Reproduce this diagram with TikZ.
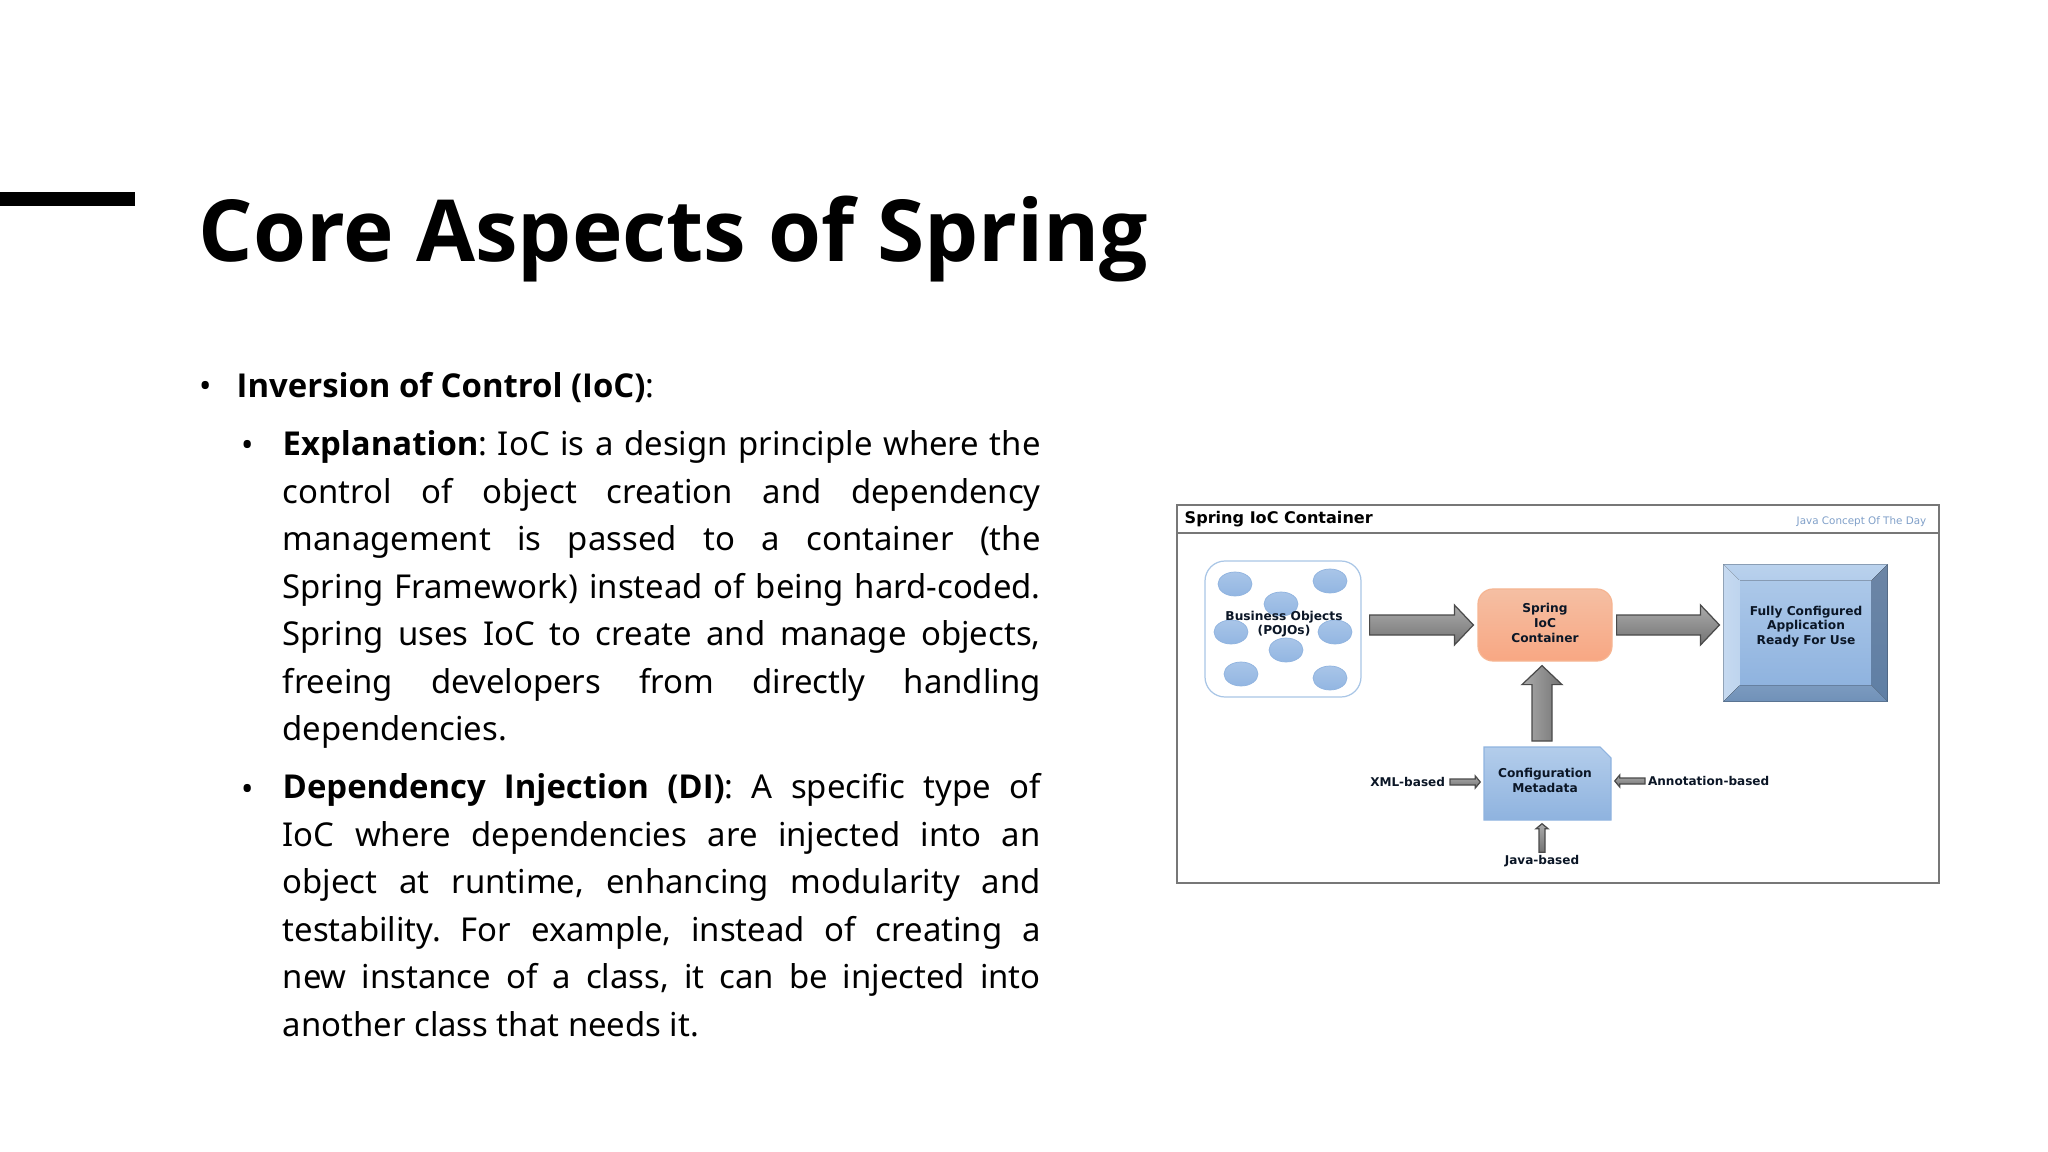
\documentclass[tikz,border=0pt]{standalone}
\usepackage{fontspec}
\setmainfont{Noto Sans}
\newfontfamily\boxfont{DejaVu Sans}
\newfontfamily\headfont{Open Sans}
\newcommand{\leadword}[1]{{\headfont\bfseries #1}}
\usetikzlibrary
  {
    calc,
    shapes.geometric,
  }

\newlength{\px}
\setlength{\px}{0.01cm}

\begin{document}
\begin{tikzpicture}
    [
      x=0.01cm, y=-0.01cm,
      % Styles
      slide title/.style={anchor=base west, inner sep=0pt, font=\headfont\bfseries\fontsize{24.35}{30}\selectfont},
      body text/.style={anchor=north west, inner sep=0pt, text width=758\px, align=justify, font=\frenchspacing\fontsize{9.35}{13.5}\selectfont},
      bullet/.style={anchor=base, inner sep=0pt, font=\fontsize{9.35}{13.5}\selectfont},
      box label/.style={inner sep=0pt, align=center, font=\boxfont\bfseries\fontsize{3.47}{4.2}\selectfont, text=labelcolor},
      small label/.style={box label, font=\boxfont\bfseries\fontsize{3.43}{4}\selectfont},
      pojo/.style={ellipse, minimum width=34\px, minimum height=24\px, inner sep=0pt, draw=pojoedge, line width=0.2pt, top color=pojotop, bottom color=pojobottom},
      block arrow/.style n args={5}{
        draw=arrowedge, line width=0.35pt, shade, top color=arrowlight, bottom color=arrowdark, shading angle=#1,
        to path={
          ($(\tikztostart)!#4!(\tikztotarget)$) coordinate (tail)
          ($(\tikztotarget)!#5!(\tikztostart)$) coordinate (tip)
          ($(tip)!#3!(tail)$) coordinate (neck)
          ($(tail)!#2*0.5!90:(tip)$) -- ($(neck)!#2*0.5!-90:(tail)$) -- ($(neck)!#2!-90:(tail)$) -- (tip)
          -- ($(neck)!#2!90:(tail)$) -- ($(neck)!#2*0.5!90:(tail)$) -- ($(tail)!#2*0.5!-90:(tip)$) -- cycle
        }
      },
      big arrow/.style 2 args={block arrow={#1}{20\px}{19\px}{#2}{4\px}},
      small arrow/.style={block arrow={0}{6\px}{5\px}{0pt}{3\px}}
    ]

    % Colors
    \definecolor{framecolor}{HTML}{777777}
    \definecolor{labelcolor}{HTML}{0B1626}
    \definecolor{watermark}{HTML}{7F9FC8}
    \definecolor{pojoedge}{HTML}{8FB3DF}
    \definecolor{pojotop}{HTML}{A9C5E8}
    \definecolor{pojobottom}{HTML}{92B6E2}
    \definecolor{beanedge}{HTML}{A9C6E6}
    \definecolor{arrowedge}{HTML}{4A4A4A}
    \definecolor{arrowlight}{HTML}{ABABAB}
    \definecolor{arrowdark}{HTML}{737373}
    \definecolor{springtop}{HTML}{F5BFA3}
    \definecolor{springbottom}{HTML}{F8A783}
    \definecolor{springedge}{HTML}{F6B592}
    \definecolor{bluetop}{HTML}{B3CDEB}
    \definecolor{bluebottom}{HTML}{8FB3DF}
    \definecolor{bevelright}{HTML}{6C85A5}
    \definecolor{bevelrightlow}{HTML}{5F7FA5}
    \definecolor{bevellow}{HTML}{7B9ABF}
    \definecolor{bevellowend}{HTML}{7091B8}

    \useasboundingbox (0,0) rectangle (2048,1152);

    % Slide heading
    \fill [black] (0,192) rectangle (135,206);
    \node [slide title] (heading) at (198,262) {Core Aspects of Spring};

    % Bullet text
    \node [bullet] (mark ioc) at (206,398) {•};
    \node [body text, text width=700\px] (ioc) at (236,372) {\leadword{Inversion of Control (IoC)}:};

    \node [bullet] (mark explain) at (248,457) {•};
    \node [body text] (explain) at (282,430)
    {
      \leadword{Explanation}: IoC is a design principle where the\linebreak
      control of object creation and dependency\linebreak
      management is passed to a container (the\linebreak
      Spring Framework) instead of being hard-coded.\linebreak
      Spring uses IoC to create and manage objects,\linebreak
      freeing developers from directly handling\linebreak
      dependencies.
    };

    \node [bullet] (mark di) at (248,800) {•};
    \node [body text] (di) at (282,773)
    {
      \leadword{Dependency Injection (DI)}: A specific type of\linebreak
      IoC where dependencies are injected into an\linebreak
      object at runtime, enhancing modularity and\linebreak
      testability. For example, instead of creating a\linebreak
      new instance of a class, it can be injected into\linebreak
      another class that needs it.
    };

    % Diagram frame
    \draw [framecolor, line width=0.55pt] (1177,505) rectangle (1939,883);
    \draw [framecolor, line width=0.55pt] (1177,533) -- (1939,533);
    \node [anchor=west, inner sep=0pt, font=\boxfont\bfseries\fontsize{4.57}{5}\selectfont] (frame title) at (1184,519) {Spring IoC Container};
    \node [anchor=east, inner sep=0pt, text=watermark, font=\boxfont\fontsize{2.95}{3}\selectfont] (frame credit) at (1927,521.5) {Java Concept Of The Day};

    % Business objects
    \node [draw=beanedge, line width=0.35pt, fill=white, rounded corners=20\px, minimum width=156\px, minimum height=136\px, inner sep=0pt] (beans) at (1283,629) {};
    \foreach \bx/\by/\bname in {1235/584/a, 1330/581/b, 1281/604/c, 1231/632/d, 1335/632/e, 1286/650/f, 1241/674/g, 1330/678/h}
    {
      \node [pojo] (pojo \bname) at (\bx,\by) {};
    }
    \node [box label] (beans text) at (1284,624) {Business Objects\\(POJOs)};

    % Spring container
    \node [box label, draw=springedge, line width=0.35pt, top color=springtop, bottom color=springbottom, rounded corners=15\px, minimum width=134\px, minimum height=72\px] (spring) at (1545,625) {};
    \node [box label] (spring text) at (1545,623) {Spring\\IoC\\Container};

    % Configured application
    \node [minimum width=163\px, minimum height=136\px, inner sep=0pt, draw=pojoedge, line width=0.3pt] (app) at (1805.5,633) {};
    \node [top color=bluetop!80!bluebottom, bottom color=bluebottom, minimum width=131\px, minimum height=104\px, inner sep=0pt] (app face) at (1805.5,633) {};
    \fill [top color=bluetop!90!white, bottom color=bluetop] (app.north west) -- (app.north east) -- (app face.north east) -- (app face.north west) -- cycle;
    \fill [left color=bluetop!75!white, right color=bluetop!85!white] (app.north west) -- (app face.north west) -- (app face.south west) -- (app.south west) -- cycle;
    \fill [top color=bevelright, bottom color=bevelrightlow] (app.north east) -- (app.south east) -- (app face.south east) -- (app face.north east) -- cycle;
    \fill [top color=bevellow, bottom color=bevellowend] (app.south west) -- (app face.south west) -- (app face.south east) -- (app.south east) -- cycle;
    \node [box label] (app text) at (1806,626.5) {Fully Configured\\Application\\Ready For Use};

    % Configuration metadata
    \path [draw=pojoedge, line width=0.3pt, top color=bluetop, bottom color=bluebottom] (1484,747) -- (1600,747) -- (1611,758) -- (1611,820) -- (1484,820) -- cycle;
    \node [box label, minimum width=127\px, minimum height=73\px] (config) at (1547.5,783.5) {};
    \node [box label] (config text) at (1545,780.5) {Configuration\\Metadata};
    \node [small label, anchor=east, outer sep=5\px] (xml) at (1450,782) {XML-based};
    \node [small label, anchor=west, outer sep=3\px] (annotation) at (1645,781) {Annotation-based};
    \node [small label, outer sep=3\px] (java) at (1542,861) {Java-based};
    \coordinate (config top) at (1542,741);

    % Connectors
    \path [big arrow={0}{8\px}] (beans.east |- spring.west) to (spring.west);
    \path [big arrow={0}{4\px}] (spring.east) to (app.west |- spring.east);
    \path [big arrow={90}{0pt}] (config top) to (config top |- spring.south);
    \path [small arrow] (xml.east) to (config.west |- xml.east);
    \path [small arrow] (annotation.west) to (config.east |- annotation.west);
    \path [small arrow] (java.north) to (java.north |- config.south);
  \end{tikzpicture}
\end{document}
